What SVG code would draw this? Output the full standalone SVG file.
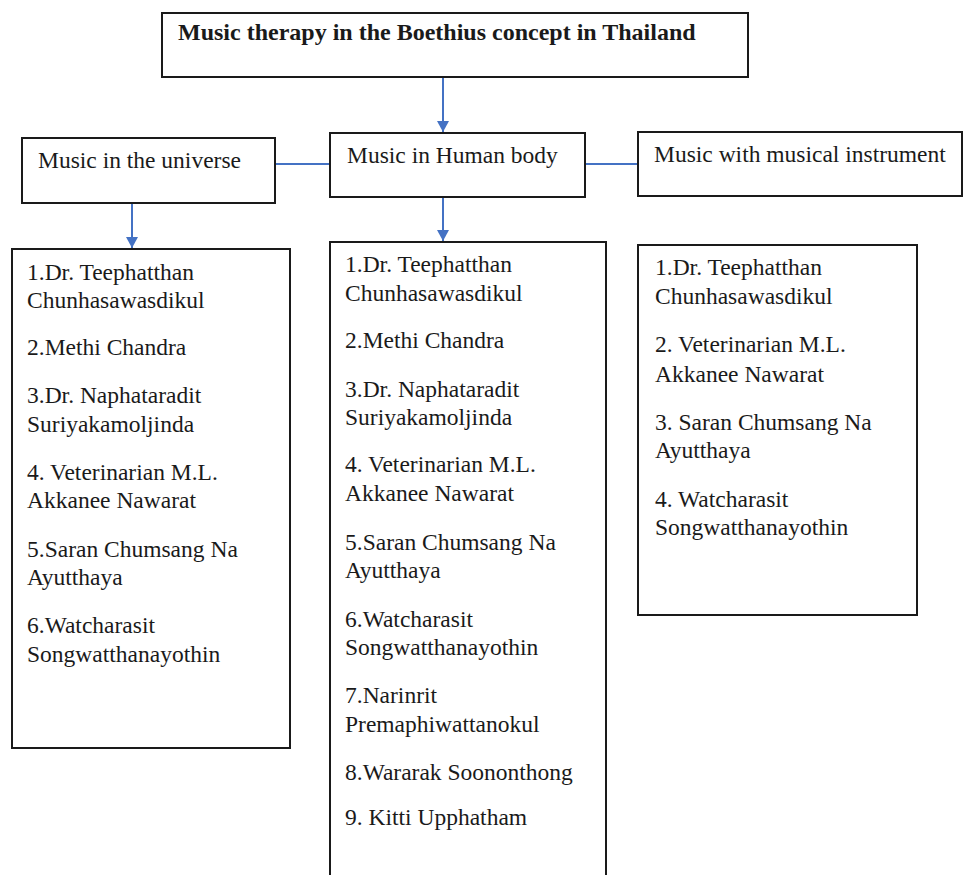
<svg xmlns="http://www.w3.org/2000/svg" width="965" height="875" viewBox="0 0 965 875">
<style>
  .box { fill: #ffffff; stroke: #1a1a1a; stroke-width: 2; }
  .t { font-family: "Liberation Serif", "Times New Roman", serif; font-size: 23.5px; fill: #1a1a1a; }
  .title { font-family: "Liberation Serif", "Times New Roman", serif; font-size: 24px; font-weight: bold; fill: #1a1a1a; }
  .conn { stroke: #4472C4; stroke-width: 2; fill: none; }
</style>
<defs>
  <marker id="arrow" markerUnits="userSpaceOnUse" markerWidth="14" markerHeight="12" refX="11" refY="6" orient="auto">
    <path d="M0,0 L11,6 L0,12 Z" fill="#4472C4"/>
  </marker>
</defs>
<rect width="965" height="875" fill="#ffffff"/>
<g id="connectors">
  <line class="conn" x1="443" y1="78" x2="443" y2="132" marker-end="url(#arrow)"/>
  <line class="conn" x1="443" y1="198" x2="443" y2="241" marker-end="url(#arrow)"/>
  <line class="conn" x1="132" y1="204" x2="132" y2="248" marker-end="url(#arrow)"/>
  <line class="conn" x1="275" y1="164" x2="330" y2="164"/>
  <line class="conn" x1="585" y1="164" x2="638" y2="164"/>
</g>
<g id="title">
  <rect class="box" x="162" y="13" width="586" height="64"/>
  <text class="title" x="178" y="40">Music therapy in the Boethius concept in Thailand</text>
</g>
<g id="universe">
  <rect class="box" x="22" y="138" width="253" height="65"/>
  <text class="t" x="38" y="168">Music in the universe</text>
</g>
<g id="human">
  <rect class="box" x="330" y="133" width="255" height="64"/>
  <text class="t" x="347" y="163">Music in Human body</text>
</g>
<g id="instrument">
  <rect class="box" x="638" y="132" width="324" height="64"/>
  <text class="t" x="654" y="162">Music with musical instrument</text>
</g>
<g id="universe-list">
  <rect class="box" x="12" y="249" width="278" height="499"/>
  <text class="t" x="27" y="280">1.Dr. Teephatthan</text>
  <text class="t" x="27" y="308">Chunhasawasdikul</text>
  <text class="t" x="27" y="355">2.Methi Chandra</text>
  <text class="t" x="27" y="403">3.Dr. Naphataradit</text>
  <text class="t" x="27" y="432">Suriyakamoljinda</text>
  <text class="t" x="27" y="480">4. Veterinarian M.L.</text>
  <text class="t" x="27" y="508">Akkanee Nawarat</text>
  <text class="t" x="27" y="557">5.Saran Chumsang Na</text>
  <text class="t" x="27" y="585">Ayutthaya</text>
  <text class="t" x="27" y="633">6.Watcharasit</text>
  <text class="t" x="27" y="662">Songwatthanayothin</text>
</g>
<g id="human-list">
  <rect class="box" x="330" y="242" width="276" height="640"/>
  <text class="t" x="345" y="272">1.Dr. Teephatthan</text>
  <text class="t" x="345" y="301">Chunhasawasdikul</text>
  <text class="t" x="345" y="348">2.Methi Chandra</text>
  <text class="t" x="345" y="397">3.Dr. Naphataradit</text>
  <text class="t" x="345" y="425">Suriyakamoljinda</text>
  <text class="t" x="345" y="472">4. Veterinarian M.L.</text>
  <text class="t" x="345" y="501">Akkanee Nawarat</text>
  <text class="t" x="345" y="550">5.Saran Chumsang Na</text>
  <text class="t" x="345" y="578">Ayutthaya</text>
  <text class="t" x="345" y="627">6.Watcharasit</text>
  <text class="t" x="345" y="655">Songwatthanayothin</text>
  <text class="t" x="345" y="703">7.Narinrit</text>
  <text class="t" x="345" y="732">Premaphiwattanokul</text>
  <text class="t" x="345" y="780">8.Wararak Soononthong</text>
  <text class="t" x="345" y="825">9. Kitti Upphatham</text>
</g>
<g id="instrument-list">
  <rect class="box" x="638" y="245" width="279" height="370"/>
  <text class="t" x="655" y="275">1.Dr. Teephatthan</text>
  <text class="t" x="655" y="304">Chunhasawasdikul</text>
  <text class="t" x="655" y="352">2. Veterinarian M.L.</text>
  <text class="t" x="655" y="382">Akkanee Nawarat</text>
  <text class="t" x="655" y="430">3. Saran Chumsang Na</text>
  <text class="t" x="655" y="458">Ayutthaya</text>
  <text class="t" x="655" y="507">4. Watcharasit</text>
  <text class="t" x="655" y="535">Songwatthanayothin</text>
</g>
</svg>
